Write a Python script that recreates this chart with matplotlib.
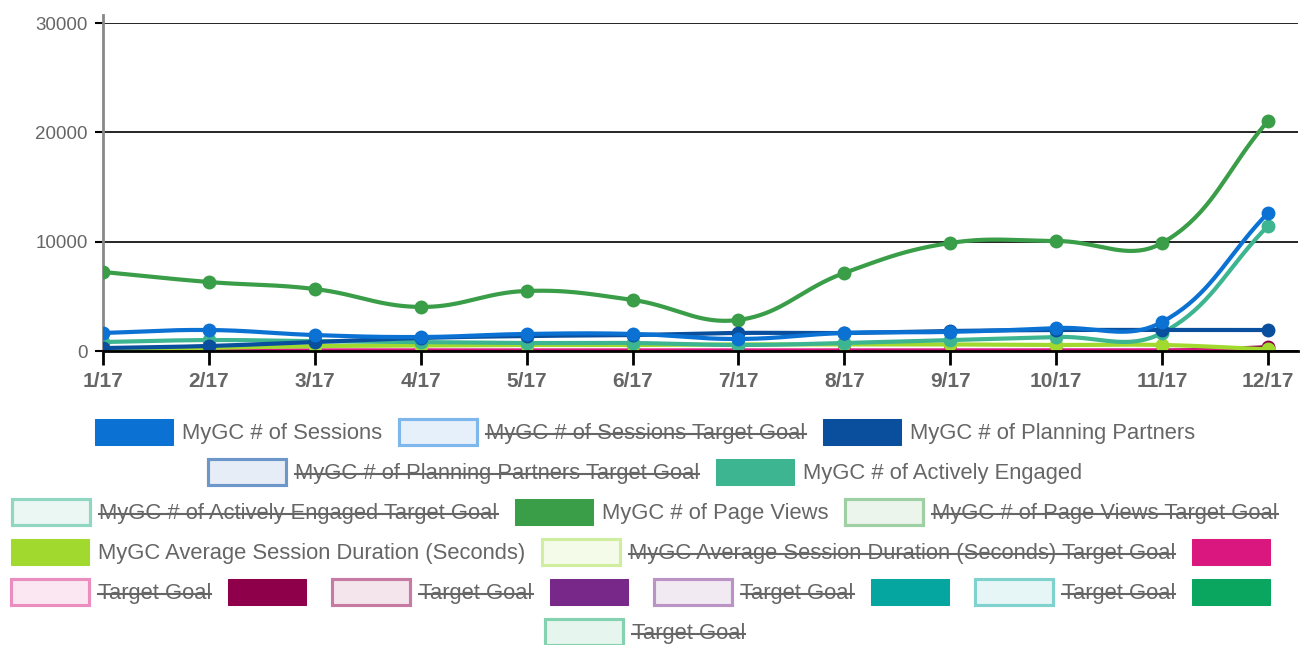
import numpy as np
import matplotlib
matplotlib.use('Agg')
import matplotlib.pyplot as plt
from matplotlib.patches import Rectangle
from matplotlib.lines import Line2D

plt.rcParams['font.family'] = ['Liberation Sans', 'DejaVu Sans']

months = ['1/17', '2/17', '3/17', '4/17', '5/17', '6/17', '7/17', '8/17', '9/17', '10/17', '11/17', '12/17']

sessions = [1650, 1920, 1460, 1280, 1560, 1560, 1100, 1650, 1750, 2100, 2650, 12620]
planning_partners = [270, 460, 820, 1190, 1370, 1460, 1650, 1650, 1830, 1920, 1920, 1920]
actively_engaged = [820, 1000, 900, 820, 730, 730, 550, 730, 1000, 1280, 1650, 11440]
page_views = [7230, 6310, 5670, 4030, 5490, 4670, 2840, 7140, 9880, 10060, 9880, 21040]
avg_duration = [150, 300, 450, 500, 550, 550, 600, 600, 600, 550, 550, 150]
unnamed_magenta = [0, 20, 50, 50, 50, 50, 50, 50, 50, 50, 50, 100]
unnamed_maroon = [0, 0, 0, 0, 0, 0, 0, 0, 0, 0, 0, 350]

# legend entries: (label, color, fill, hidden)
legend_items = [
    ('MyGC # of Sessions', '#0b72d4', '#0b72d4', False),
    ('MyGC # of Sessions Target Goal', '#7db7ec', '#e6f0fb', True),
    ('MyGC # of Planning Partners', '#0a4f9d', '#0a4f9d', False),
    ('MyGC # of Planning Partners Target Goal', '#6c97c8', '#e6edf6', True),
    ('MyGC # of Actively Engaged', '#3cb590', '#3cb590', False),
    ('MyGC # of Actively Engaged Target Goal', '#8fd7c1', '#ebf7f3', True),
    ('MyGC # of Page Views', '#3a9d48', '#3a9d48', False),
    ('MyGC # of Page Views Target Goal', '#9ed0a3', '#ebf5ec', True),
    ('MyGC Average Session Duration (Seconds)', '#a1d92e', '#a1d92e', False),
    ('MyGC Average Session Duration (Seconds) Target Goal', '#d0ee9f', '#f5fbe9', True),
    ('', '#d9177e', '#d9177e', False),
    ('Target Goal', '#eb8dbe', '#fbe7f2', True),
    ('', '#8f004a', '#8f004a', False),
    ('Target Goal', '#c77aa2', '#f4e5ec', True),
    ('', '#772889', '#772889', False),
    ('Target Goal', '#bb93c4', '#f1eaf3', True),
    ('', '#05a6a0', '#05a6a0', False),
    ('Target Goal', '#80d2cf', '#e6f6f6', True),
    ('', '#0aa55f', '#0aa55f', False),
    ('Target Goal', '#84d2af', '#e6f6ef', True),
]

series = [
    (sessions, '#0b72d4'),
    (planning_partners, '#0a4f9d'),
    (actively_engaged, '#3cb590'),
    (page_views, '#3a9d48'),
    (avg_duration, '#a1d92e'),
    (unnamed_magenta, '#d9177e'),
    (unnamed_maroon, '#8f004a'),
]

W, H = 1307, 645
fig = plt.figure(figsize=(W / 100, H / 100), dpi=100)
ax_left, ax_right, ax_top, ax_bottom = 103, 1298, 23, 351
ax = fig.add_axes([ax_left / W, 1 - ax_bottom / H, (ax_right - ax_left) / W, (ax_bottom - ax_top) / H])

xpx = 105.9            # pixels per category
ypx = 109.3 / 10000    # pixels per unit


def spline(xs, ys, t=0.4, n=40):
    # chart.js style bezier curve through the points
    p = np.column_stack([np.asarray(xs) * xpx, np.asarray(ys, float) * ypx])
    m = len(p)
    prev_cp = np.zeros_like(p)
    next_cp = np.zeros_like(p)
    for i in range(m):
        a = p[max(i - 1, 0)]
        b = p[i]
        c = p[min(i + 1, m - 1)]
        d01 = np.hypot(*(b - a))
        d12 = np.hypot(*(c - b))
        tot = d01 + d12
        s01 = d01 / tot if tot else 0
        s12 = d12 / tot if tot else 0
        prev_cp[i] = b - t * s01 * (c - a)
        next_cp[i] = b + t * s12 * (c - a)
    out = []
    u = np.linspace(0, 1, n)[:, None]
    for i in range(m - 1):
        P0, P1, P2, P3 = p[i], next_cp[i], prev_cp[i + 1], p[i + 1]
        seg = (1 - u) ** 3 * P0 + 3 * (1 - u) ** 2 * u * P1 + 3 * (1 - u) * u ** 2 * P2 + u ** 3 * P3
        out.append(seg)
    out = np.vstack(out)
    return out[:, 0] / xpx, out[:, 1] / ypx


x = np.arange(len(months))
for k, (vals, col) in enumerate(series):
    sx, sy = spline(x, vals)
    z = 10 - k
    ax.plot(sx, sy, color=col, lw=3, zorder=z, solid_capstyle='round')
    ax.plot(x, vals, 'o', color=col, ms=9, zorder=z, clip_on=True)

ax.set_xlim(0, 11 + 30 / xpx)
ax.set_ylim(0, 30000)
ax.set_xticks(x)
ax.set_xticklabels(months)
ax.set_yticks([0, 10000, 20000, 30000])
ax.set_yticklabels(['0', '10000', '20000', '30000'])
ax.tick_params(axis='x', length=10, width=2, color='black', pad=5, labelsize=15, labelcolor='#666666')
for lab in ax.get_xticklabels():
    lab.set_fontweight('bold')
ax.tick_params(axis='y', length=6, width=1.5, color='black', pad=5, labelsize=13.5, labelcolor='#666666')
ax.grid(axis='y', color='black', lw=1.2)
ax.set_axisbelow(True)
for s in ['top', 'right']:
    ax.spines[s].set_visible(False)
ax.spines['left'].set_color('#888888')
ax.spines['left'].set_linewidth(2)
ax.spines['left'].set_bounds(0, 30700)
ax.spines['bottom'].set_color('black')
ax.spines['bottom'].set_linewidth(2)
ax.spines['bottom'].set_zorder(20)

# legend, chart.js style rows centred under the plot
renderer = fig.canvas.get_renderer()
box_w, box_h, gap_txt, gap_item = 78, 26, 9, 17
max_w = W - 20
font_size = 15.8

widths = []
for lab, *_ in legend_items:
    if lab:
        t = fig.text(0, 0, lab, fontsize=font_size)
        tw = t.get_window_extent(renderer).width
        t.remove()
    else:
        tw = 0
    widths.append(box_w + gap_txt + tw + gap_item)

rows = [[]]
row_w = 0
for i, w in enumerate(widths):
    if rows[-1] and row_w + w > max_w:
        rows.append([])
        row_w = 0
    rows[-1].append(i)
    row_w += w

row_y0, row_h = 432, 40
for r, idxs in enumerate(rows):
    total = sum(widths[i] for i in idxs)
    cx = (W - total) / 2
    cy = row_y0 + r * row_h
    for i in idxs:
        lab, col, fill, hidden = legend_items[i]
        lw = 3 if hidden else 1
        fig.patches.append(Rectangle(((cx) / W, 1 - (cy + box_h / 2) / H), box_w / W, box_h / H,
                                     transform=fig.transFigure, facecolor=fill, edgecolor=col, lw=lw * 0.75))
        if lab:
            tx = cx + box_w + gap_txt
            t = fig.text(tx / W, 1 - (cy + 2) / H, lab, fontsize=font_size, color='#666666', va='center', ha='left')
            if hidden:
                tw = widths[i] - box_w - gap_txt - gap_item
                fig.add_artist(Line2D([tx / W, (tx + tw) / W], [1 - (cy + 2) / H, 1 - (cy + 2) / H],
                                      transform=fig.transFigure, color='#666666', lw=1.5))
        cx += widths[i]

fig.savefig('out.png', dpi=100)
